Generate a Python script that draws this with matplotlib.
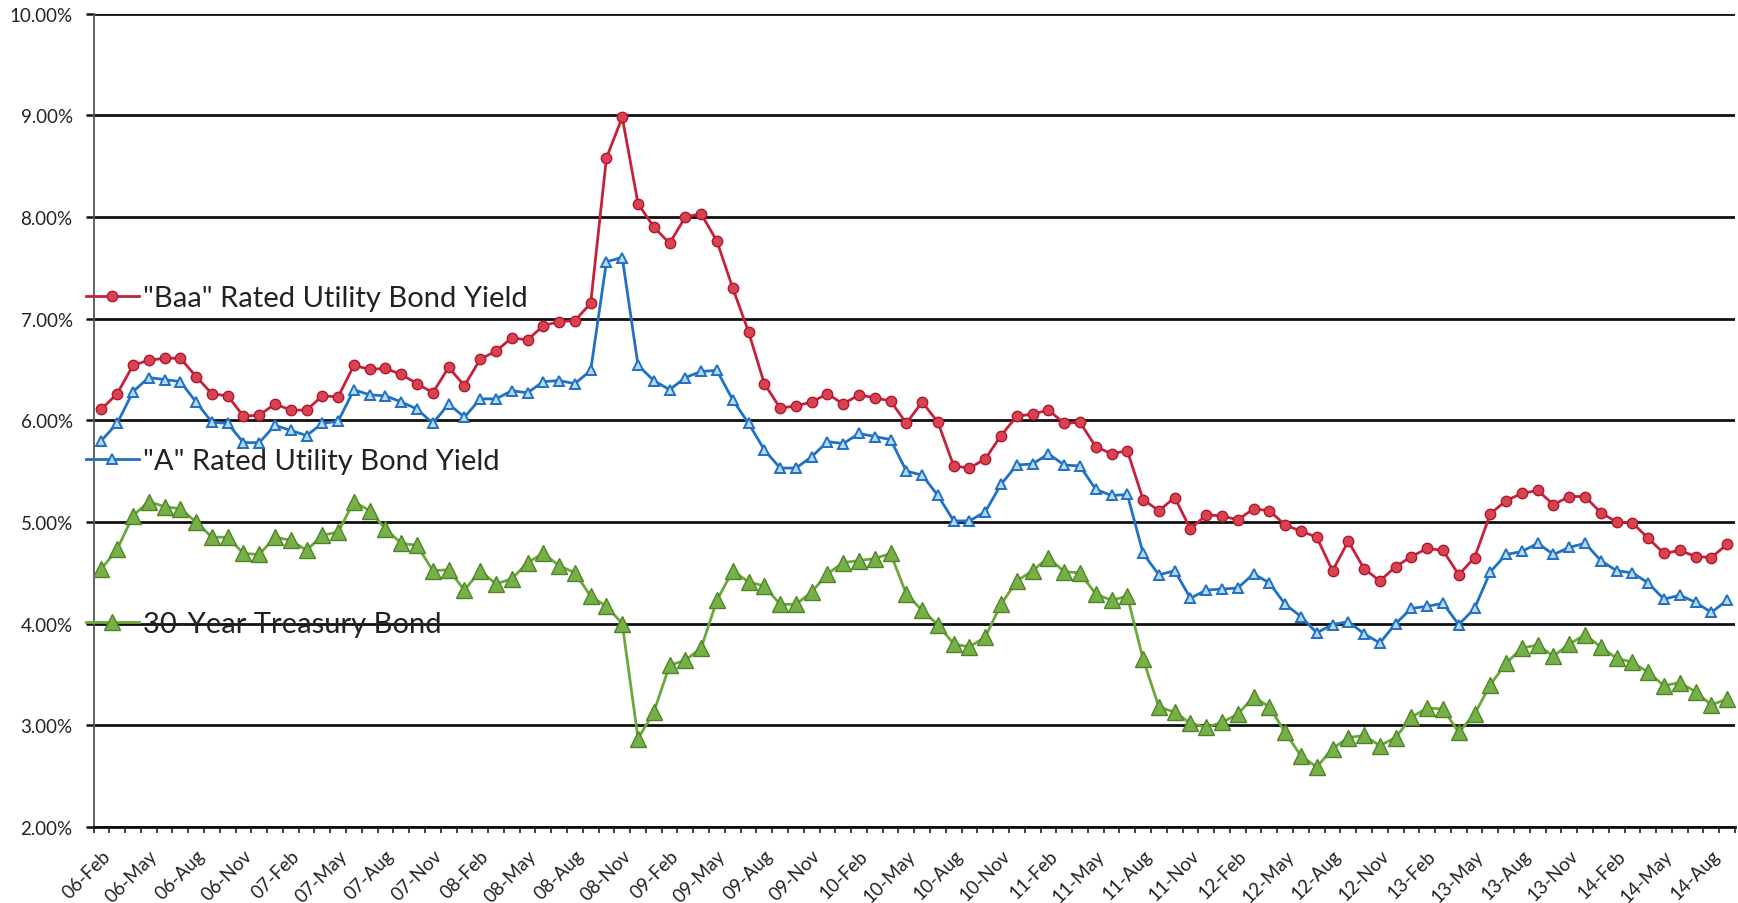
import matplotlib
matplotlib.use("Agg")
import matplotlib.pyplot as plt
from matplotlib.lines import Line2D
from matplotlib.ticker import FixedLocator, FuncFormatter
import numpy as np
import pandas as pd

plt.rcParams["font.family"] = ["Lato", "DejaVu Sans"]

# Monthly observations, Feb 2006 - Sep 2014
months = pd.period_range("2006-02", periods=104, freq="M")
categories = [p.strftime("%y-%b") for p in months]

baa_yield = [
    6.11, 6.26, 6.54, 6.59, 6.61, 6.61, 6.43, 6.26, 6.24, 6.04, 6.05,
    6.16, 6.10, 6.10, 6.24, 6.23, 6.54, 6.50, 6.51, 6.45, 6.36, 6.27, 6.52,
    6.34, 6.60, 6.68, 6.81, 6.79, 6.93, 6.97, 6.98, 7.15, 8.58, 8.98, 8.13,
    7.90, 7.74, 8.00, 8.03, 7.76, 7.30, 6.87, 6.36, 6.12, 6.14, 6.18, 6.26,
    6.16, 6.25, 6.22, 6.19, 5.97, 6.18, 5.98, 5.55, 5.53, 5.62, 5.85, 6.04,
    6.06, 6.10, 5.97, 5.98, 5.74, 5.67, 5.70, 5.22, 5.11, 5.24, 4.93, 5.07,
    5.06, 5.02, 5.13, 5.11, 4.97, 4.91, 4.85, 4.52, 4.81, 4.54, 4.42, 4.56,
    4.66, 4.74, 4.72, 4.48, 4.65, 5.08, 5.21, 5.28, 5.31, 5.17, 5.25, 5.25,
    5.09, 5.00, 4.99, 4.84, 4.69, 4.72, 4.66, 4.65, 4.78,
]

a_yield = [
    5.80, 5.97, 6.28, 6.42, 6.40, 6.38, 6.18, 5.98, 5.97, 5.78, 5.78,
    5.95, 5.90, 5.85, 5.97, 5.99, 6.30, 6.25, 6.24, 6.18, 6.11, 5.97, 6.16,
    6.03, 6.21, 6.21, 6.29, 6.27, 6.38, 6.39, 6.36, 6.49, 7.56, 7.60, 6.54,
    6.39, 6.30, 6.42, 6.48, 6.49, 6.20, 5.97, 5.71, 5.53, 5.53, 5.64, 5.79,
    5.77, 5.87, 5.84, 5.81, 5.50, 5.46, 5.26, 5.01, 5.01, 5.10, 5.37, 5.56,
    5.57, 5.67, 5.56, 5.55, 5.32, 5.26, 5.27, 4.69, 4.48, 4.52, 4.25, 4.33,
    4.34, 4.35, 4.49, 4.40, 4.19, 4.07, 3.91, 3.99, 4.02, 3.90, 3.81, 4.00,
    4.15, 4.17, 4.20, 3.99, 4.15, 4.51, 4.68, 4.71, 4.79, 4.68, 4.75, 4.79,
    4.62, 4.52, 4.50, 4.40, 4.24, 4.28, 4.21, 4.11, 4.23,
]

treasury_30y = [
    4.54, 4.73, 5.06, 5.20, 5.15, 5.13, 5.00, 4.85, 4.85, 4.69, 4.68,
    4.85, 4.82, 4.72, 4.87, 4.90, 5.20, 5.11, 4.93, 4.79, 4.77, 4.52, 4.53,
    4.33, 4.52, 4.39, 4.44, 4.60, 4.69, 4.57, 4.50, 4.27, 4.17, 4.00, 2.87,
    3.13, 3.59, 3.64, 3.76, 4.23, 4.52, 4.41, 4.37, 4.19, 4.19, 4.31, 4.49,
    4.60, 4.62, 4.64, 4.69, 4.29, 4.13, 3.99, 3.80, 3.77, 3.87, 4.19, 4.42,
    4.52, 4.65, 4.51, 4.50, 4.29, 4.23, 4.27, 3.65, 3.18, 3.13, 3.02, 2.98,
    3.03, 3.11, 3.28, 3.18, 2.93, 2.70, 2.59, 2.77, 2.88, 2.90, 2.80, 2.88,
    3.08, 3.17, 3.16, 2.93, 3.11, 3.40, 3.61, 3.76, 3.79, 3.68, 3.80, 3.89,
    3.77, 3.66, 3.62, 3.52, 3.39, 3.42, 3.33, 3.20, 3.26,
]

series_names = ['"Baa" Rated Utility Bond Yield',
                '"A" Rated Utility Bond Yield',
                '30-Year Treasury Bond']
y_ticks = [2, 3, 4, 5, 6, 7, 8, 9, 10]

# Styles
red_line, red_fill, red_edge = "#C8203A", "#D8434F", "#B01830"
blue_line, blue_fill = "#2070C4", "#B8DAF4"
green_line, green_fill, green_edge = "#6BA83A", "#78B048", "#4E8428"

W, H = 1738, 904
fig = plt.figure(figsize=(W / 100, H / 100), dpi=100)
fig.patch.set_facecolor("white")
left, right, top, bottom = 93.5, 1735, 14.5, 828
ax = fig.add_axes([left / W, 1 - bottom / H, (right - left) / W, (bottom - top) / H])

x = np.arange(len(categories))
styles = [
    dict(color=green_line, lw=2.0, marker="^", ms=11.5, mfc=green_fill, mec=green_edge, mew=1.0),
    dict(color=blue_line, lw=2.0, marker="^", ms=6.5, mfc=blue_fill, mec=blue_line, mew=1.4),
    dict(color=red_line, lw=2.0, marker="o", ms=7.5, mfc=red_fill, mec=red_edge, mew=1.0),
]
for vals, st, z in zip([treasury_30y, a_yield, baa_yield], styles, [3, 4, 5]):
    ax.plot(x, vals, zorder=z, **st)

ax.set_xlim(-0.5, len(categories) - 0.5)
ax.set_ylim(2, 10)
ax.set_yticks(y_ticks)
ax.yaxis.set_major_formatter(FuncFormatter(lambda v, _: f"{v:.2f}%"))
ax.yaxis.grid(True, color="#111111", lw=2.0)
ax.set_axisbelow(True)

# Category axis: labels every quarter, tick marks between months
label_idx = list(range(0, len(categories), 3))
ax.set_xticks(label_idx)
ax.set_xticklabels([categories[i] for i in label_idx], rotation=45, ha="right",
                   va="top", rotation_mode="anchor", fontsize=13.5, color="#222222")
ax.xaxis.set_minor_locator(FixedLocator(np.arange(-0.5, len(categories), 1.0)))
ax.tick_params(axis="x", which="major", length=0, pad=14)
ax.tick_params(axis="x", which="minor", length=4, width=1.3, color="#333333", direction="out")
ax.tick_params(axis="y", length=6, width=1.8, color="#111111", pad=9, labelsize=13.5,
               labelcolor="#222222")

for s in ("top", "right"):
    ax.spines[s].set_visible(False)
ax.spines["left"].set_color("#555555")
ax.spines["left"].set_linewidth(1.3)
ax.spines["bottom"].set_color("#111111")
ax.spines["bottom"].set_linewidth(2.0)

# In-plot legend entries
legend_y = [299, 462, 625]
for name, st, ly in zip(series_names, styles[::-1], legend_y):
    handle = Line2D([], [], **st)
    fig.legend(handles=[handle], labels=[name], loc="center left",
               bbox_to_anchor=(86 / W, 1 - ly / H), frameon=False, fontsize=21,
               handlelength=1.8, handletextpad=0.15, borderpad=0, borderaxespad=0,
               numpoints=1, labelcolor="#222222")

fig.savefig("out.png", dpi=100, facecolor="white")
